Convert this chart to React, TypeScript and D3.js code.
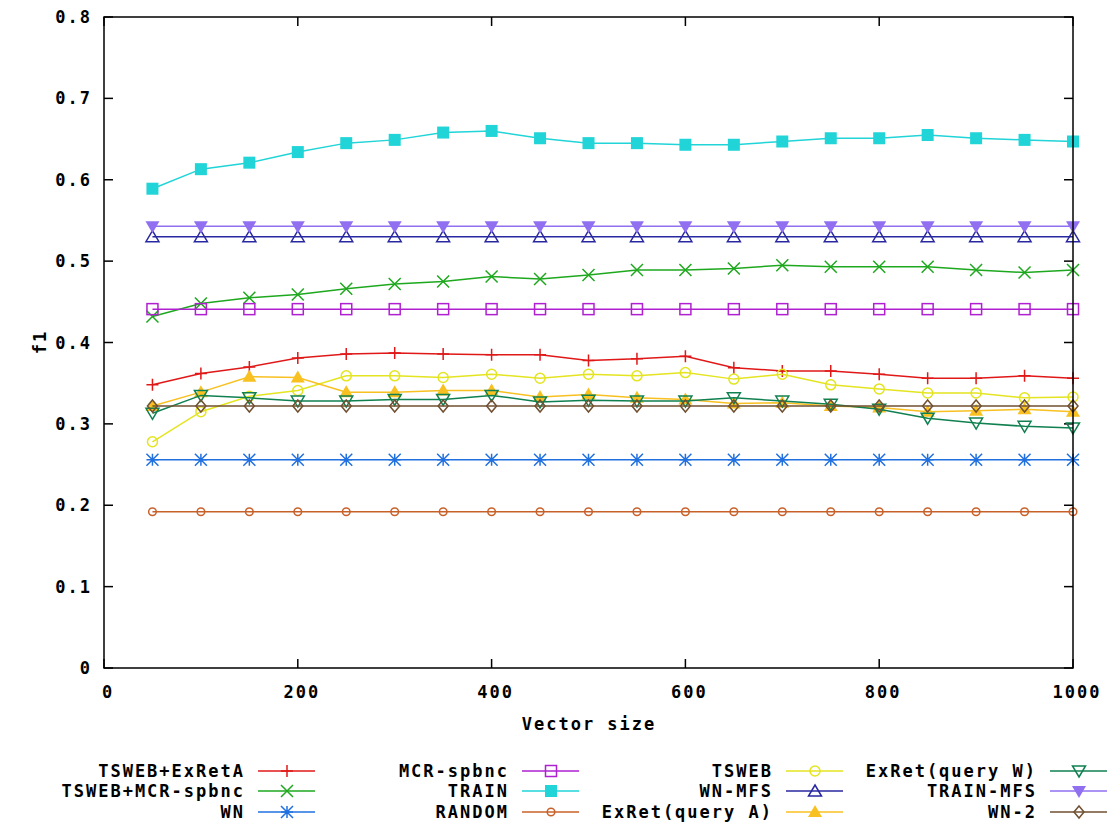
import React from 'react'
import * as d3 from 'd3'

const vectorSizes = [50, 100, 150, 200, 250, 300, 350, 400, 450, 500, 550, 600, 650, 700, 750, 800, 850, 900, 950, 1000]

const tswebExRetA = [0.348, 0.362, 0.370, 0.381, 0.386, 0.387, 0.386, 0.385, 0.385, 0.378, 0.380, 0.383, 0.369, 0.365, 0.365, 0.361, 0.356, 0.356, 0.359, 0.356]
const tswebMcr = [0.432, 0.448, 0.455, 0.459, 0.466, 0.472, 0.475, 0.481, 0.478, 0.483, 0.489, 0.489, 0.491, 0.495, 0.493, 0.493, 0.493, 0.489, 0.486, 0.489]
const wn = [0.256, 0.256, 0.256, 0.256, 0.256, 0.256, 0.256, 0.256, 0.256, 0.256, 0.256, 0.256, 0.256, 0.256, 0.256, 0.256, 0.256, 0.256, 0.256, 0.256]
const mcrSpbnc = [0.441, 0.441, 0.441, 0.441, 0.441, 0.441, 0.441, 0.441, 0.441, 0.441, 0.441, 0.441, 0.441, 0.441, 0.441, 0.441, 0.441, 0.441, 0.441, 0.441]
const train = [0.589, 0.613, 0.621, 0.634, 0.645, 0.649, 0.658, 0.660, 0.651, 0.645, 0.645, 0.643, 0.643, 0.647, 0.651, 0.651, 0.655, 0.651, 0.649, 0.647]
const random = [0.192, 0.192, 0.192, 0.192, 0.192, 0.192, 0.192, 0.192, 0.192, 0.192, 0.192, 0.192, 0.192, 0.192, 0.192, 0.192, 0.192, 0.192, 0.192, 0.192]
const tsweb = [0.278, 0.315, 0.334, 0.341, 0.359, 0.359, 0.357, 0.361, 0.356, 0.361, 0.359, 0.363, 0.355, 0.361, 0.348, 0.343, 0.338, 0.338, 0.332, 0.333]
const wnMfs = [0.530, 0.530, 0.530, 0.530, 0.530, 0.530, 0.530, 0.530, 0.530, 0.530, 0.530, 0.530, 0.530, 0.530, 0.530, 0.530, 0.530, 0.530, 0.530, 0.530]
const exRetA = [0.322, 0.339, 0.358, 0.357, 0.339, 0.339, 0.341, 0.341, 0.333, 0.336, 0.332, 0.330, 0.325, 0.326, 0.322, 0.320, 0.315, 0.316, 0.318, 0.315]
const exRetW = [0.313, 0.335, 0.332, 0.328, 0.328, 0.330, 0.330, 0.335, 0.327, 0.329, 0.328, 0.328, 0.332, 0.328, 0.324, 0.318, 0.307, 0.301, 0.297, 0.295]
const trainMfs = [0.543, 0.543, 0.543, 0.543, 0.543, 0.543, 0.543, 0.543, 0.543, 0.543, 0.543, 0.543, 0.543, 0.543, 0.543, 0.543, 0.543, 0.543, 0.543, 0.543]
const wn2 = [0.322, 0.322, 0.322, 0.322, 0.322, 0.322, 0.322, 0.322, 0.322, 0.322, 0.322, 0.322, 0.322, 0.322, 0.322, 0.322, 0.322, 0.322, 0.322, 0.322]

const xTicks = [0, 200, 400, 600, 800, 1000]
const yTicks = [0, 0.1, 0.2, 0.3, 0.4, 0.5, 0.6, 0.7, 0.8]
const yTickLabels = ['0', '0.1', '0.2', '0.3', '0.4', '0.5', '0.6', '0.7', '0.8']

type Sym = 'plus' | 'cross' | 'star' | 'square' | 'squareFill' | 'circle' | 'circleOpen' | 'tri' | 'triFill' | 'triDown' | 'triDownFill' | 'diamond'

const series: { name: string; values: number[]; color: string; sym: Sym }[] = [
  { name: 'TSWEB+ExRetA', values: tswebExRetA, color: '#e01818', sym: 'plus' },
  { name: 'TSWEB+MCR-spbnc', values: tswebMcr, color: '#1ea81e', sym: 'cross' },
  { name: 'WN', values: wn, color: '#2070e0', sym: 'star' },
  { name: 'MCR-spbnc', values: mcrSpbnc, color: '#b020d0', sym: 'square' },
  { name: 'TRAIN', values: train, color: '#20d4d8', sym: 'squareFill' },
  { name: 'RANDOM', values: random, color: '#c8602a', sym: 'circle' },
  { name: 'TSWEB', values: tsweb, color: '#e4e420', sym: 'circleOpen' },
  { name: 'WN-MFS', values: wnMfs, color: '#2828a0', sym: 'tri' },
  { name: 'ExRet(query A)', values: exRetA, color: '#f8c020', sym: 'triFill' },
  { name: 'ExRet(query W)', values: exRetW, color: '#108050', sym: 'triDown' },
  { name: 'TRAIN-MFS', values: trainMfs, color: '#9070f0', sym: 'triDownFill' },
  { name: 'WN-2', values: wn2, color: '#705030', sym: 'diamond' },
]

const W = 1110
const H = 829
const left = 104
const right = 1073
const top = 17
const bottom = 668
const font = '"DejaVu Sans Mono", monospace'

function Marker({ sym, x, y, color }: { sym: Sym; x: number; y: number; color: string }) {
  const s = 6
  const sw = 1.5
  switch (sym) {
    case 'plus':
      return <path d={`M${x - s},${y}H${x + s}M${x},${y - s}V${y + s}`} stroke={color} strokeWidth={sw} fill="none" />
    case 'cross':
      return <path d={`M${x - s},${y - s}L${x + s},${y + s}M${x - s},${y + s}L${x + s},${y - s}`} stroke={color} strokeWidth={sw} fill="none" />
    case 'star':
      return (
        <path
          d={`M${x - s},${y}H${x + s}M${x},${y - s}V${y + s}M${x - s},${y - s}L${x + s},${y + s}M${x - s},${y + s}L${x + s},${y - s}`}
          stroke={color}
          strokeWidth={sw}
          fill="none"
        />
      )
    case 'square':
      return <rect x={x - 5.5} y={y - 5.5} width={11} height={11} stroke={color} strokeWidth={sw} fill="none" />
    case 'squareFill':
      return <rect x={x - 6} y={y - 6} width={12} height={12} fill={color} />
    case 'circle':
      return <circle cx={x} cy={y} r={3.8} stroke={color} strokeWidth={sw} fill="none" />
    case 'circleOpen':
      return <circle cx={x} cy={y} r={5} stroke={color} strokeWidth={sw} fill="none" />
    case 'tri':
      return <path d={`M${x},${y - 6}L${x + 6.5},${y + 5}L${x - 6.5},${y + 5}Z`} stroke={color} strokeWidth={sw} fill="none" />
    case 'triFill':
      return <path d={`M${x},${y - 7}L${x + 7},${y + 5}L${x - 7},${y + 5}Z`} fill={color} />
    case 'triDown':
      return <path d={`M${x},${y + 6}L${x + 6.5},${y - 5}L${x - 6.5},${y - 5}Z`} stroke={color} strokeWidth={sw} fill="none" />
    case 'triDownFill':
      return <path d={`M${x},${y + 7}L${x + 7},${y - 5}L${x - 7},${y - 5}Z`} fill={color} />
    case 'diamond':
      return <path d={`M${x},${y - 6}L${x + 5},${y}L${x},${y + 6}L${x - 5},${y}Z`} stroke={color} strokeWidth={sw} fill="none" />
  }
  return null
}

export default function App() {
  const x = d3.scaleLinear().domain([0, 1000]).range([left, right])
  const y = d3.scaleLinear().domain([0, 0.8]).range([bottom, top])
  const line = d3
    .line<number>()
    .x((_, i) => x(vectorSizes[i]))
    .y((d) => y(d))

  const textStyle = { fontFamily: font, fontWeight: 'bold' as const, fontSize: 17, letterSpacing: 2 }
  const colX = [287, 551, 815, 1079]
  const rowY = [771, 791, 812]

  return (
    <svg width={W} height={H} style={{ position: 'absolute', left: 0, top: 0, background: '#fff' }}>
      <rect x={0} y={0} width={W} height={H} fill="#fff" />

      {/* ticks, mirrored on both sides */}
      {yTicks.map((t, i) => (
        <g key={'y' + i}>
          <line x1={left} x2={left + 9} y1={y(t)} y2={y(t)} stroke="#000" strokeWidth={1.5} />
          <line x1={right} x2={right - 9} y1={y(t)} y2={y(t)} stroke="#000" strokeWidth={1.5} />
          <text x={92} y={y(t)} dy="0.36em" textAnchor="end" style={textStyle}>
            {yTickLabels[i]}
          </text>
        </g>
      ))}
      {xTicks.map((t) => (
        <g key={'x' + t}>
          <line x1={x(t)} x2={x(t)} y1={bottom} y2={bottom - 9} stroke="#000" strokeWidth={1.5} />
          <line x1={x(t)} x2={x(t)} y1={top} y2={top + 9} stroke="#000" strokeWidth={1.5} />
          <text x={x(t) + 4} y={692} dy="0.36em" textAnchor="middle" style={textStyle}>
            {t}
          </text>
        </g>
      ))}

      {series.map((s) => (
        <g key={s.name}>
          <path d={line(s.values) || ''} fill="none" stroke={s.color} strokeWidth={1.5} />
          {s.values.map((v, i) => (
            <Marker key={i} sym={s.sym} x={x(vectorSizes[i])} y={y(v)} color={s.color} />
          ))}
        </g>
      ))}

      <rect x={left} y={top} width={right - left} height={bottom - top} fill="none" stroke="#000" strokeWidth={1.5} />

      <text x={589} y={724} dy="0.36em" textAnchor="middle" style={textStyle}>
        Vector size
      </text>
      <text transform={`translate(40,342) rotate(-90)`} dy="0.36em" textAnchor="middle" style={textStyle}>
        f1
      </text>

      {series.map((s, i) => {
        const cx = colX[Math.floor(i / 3)]
        const cy = rowY[i % 3]
        return (
          <g key={'leg' + s.name}>
            <text x={cx - 42} y={cy} dy="0.36em" textAnchor="end" style={textStyle}>
              {s.name}
            </text>
            <line x1={cx - 29} x2={cx + 28} y1={cy} y2={cy} stroke={s.color} strokeWidth={1.5} />
            <Marker sym={s.sym} x={cx} y={cy} color={s.color} />
          </g>
        )
      })}
    </svg>
  )
}
